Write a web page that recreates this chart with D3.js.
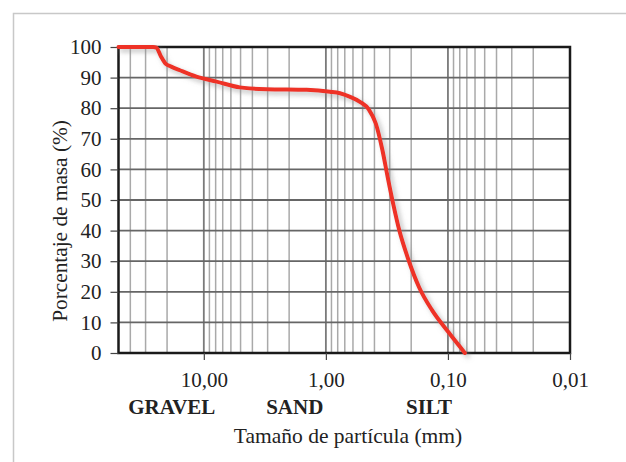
<!DOCTYPE html>
<html>
<head>
<meta charset="utf-8">
<script src="https://cdn.jsdelivr.net/npm/d3@7"></script>
<style>
  body { margin: 0; background: #fff; }
  text { font-family: "Liberation Serif", "Times New Roman", serif; fill: #222; }
</style>
</head>
<body>
<div id="chart"></div>
<script>
// particle size (mm) and percent passing
var sizes   = [50, 26, 24.5, 22.5, 20.6, 18.5, 15.7, 11.5, 7.87, 5.07, 3.06, 1.44, 0.927, 0.767, 0.64, 0.526, 0.445, 0.39, 0.345, 0.31, 0.28, 0.25, 0.212, 0.172, 0.135, 0.1, 0.0726];
var passing = [100, 100, 99.8, 97.0, 94.6, 93.6, 92.4, 90.3, 88.7, 86.8, 86.2, 86.0, 85.4, 84.9, 83.8, 82.1, 79.6, 75.0, 66.5, 57.0, 48.5, 40.0, 30.8, 21.4, 14.0, 7.0, 0];

var xTickValues = [10, 1, 0.1, 0.01];
var xTickLabels = ["10,00", "1,00", "0,10", "0,01"];
var yTickValues = [0, 10, 20, 30, 40, 50, 60, 70, 80, 90, 100];

var classNames = ["GRAVEL", "SAND", "SILT"];
var classSizes = [18.3, 1.8, 0.143];

var xTitle = "Tamaño de partícula (mm)";
var yTitle = "Porcentaje de masa (%)";

var width = 626, height = 462;
var margin = { top: 47, right: 56, bottom: 109, left: 118.5 };
var w = width - margin.left - margin.right,
    h = height - margin.top - margin.bottom;

var svg = d3.select("#chart").append("svg")
    .attr("width", width)
    .attr("height", height);

// light frame around the figure
svg.append("path")
    .attr("d", "M13.5,462 V13.5 H626")
    .attr("fill", "none")
    .attr("stroke", "#c8c8c8")
    .attr("stroke-width", 1.5);

var defs = svg.append("defs");
var filt = defs.append("filter").attr("id", "shadow")
    .attr("x", "-10%").attr("y", "-10%").attr("width", "130%").attr("height", "130%");
filt.append("feDropShadow")
    .attr("dx", 3).attr("dy", 3).attr("stdDeviation", 2.5)
    .attr("flood-color", "#888").attr("flood-opacity", 0.55);

var g = svg.append("g")
    .attr("transform", "translate(" + margin.left + "," + margin.top + ")");

var x = d3.scaleLog().domain([50, 0.01]).range([0, w]);
var y = d3.scaleLinear().domain([0, 100]).range([h, 0]);

// minor vertical grid: 2..9 in every decade
var minor = [];
[10, 1, 0.1, 0.01].forEach(function(base) {
  for (var k = 2; k <= 9; k++) {
    var v = base * k;
    if (v < 50) minor.push(v);
  }
});

g.selectAll(".vminor").data(minor).enter().append("line")
    .attr("class", "vminor")
    .attr("x1", d => x(d)).attr("x2", d => x(d))
    .attr("y1", 0).attr("y2", h)
    .attr("stroke", "#a9a9a9")
    .attr("stroke-width", 1.5);

g.selectAll(".vmajor").data([10, 1, 0.1]).enter().append("line")
    .attr("class", "vmajor")
    .attr("x1", d => x(d)).attr("x2", d => x(d))
    .attr("y1", 0).attr("y2", h)
    .attr("stroke", "#7a7a7a")
    .attr("stroke-width", 1.8);

g.selectAll(".hgrid").data(yTickValues.slice(1, -1)).enter().append("line")
    .attr("class", "hgrid")
    .attr("x1", 0).attr("x2", w)
    .attr("y1", d => y(d)).attr("y2", d => y(d))
    .attr("stroke", "#666")
    .attr("stroke-width", 1.8);

// frame of the plot
g.append("rect")
    .attr("width", w).attr("height", h)
    .attr("fill", "none")
    .attr("stroke", "#1a1a1a")
    .attr("stroke-width", 2.5);

// axes
var yAxis = d3.axisLeft(y).tickValues(yTickValues).tickSize(8).tickPadding(9).tickFormat(d3.format("d"));
var yg = g.append("g").attr("class", "axis y-axis").call(yAxis);
yg.select(".domain").remove();
yg.selectAll("line").attr("stroke", "#444").attr("stroke-width", 1.2);
yg.selectAll("text").attr("font-size", 21).style("font-family", "Liberation Serif, serif").attr("fill", "#222");

var xAxis = d3.axisBottom(x).tickValues(xTickValues).tickSize(7).tickPadding(12)
    .tickFormat((d, i) => xTickLabels[i]);
var xg = g.append("g").attr("class", "axis x-axis")
    .attr("transform", "translate(0," + h + ")")
    .call(xAxis);
xg.select(".domain").remove();
xg.selectAll("line").attr("stroke", "#444").attr("stroke-width", 1.2);
xg.selectAll("text").attr("font-size", 21).style("font-family", "Liberation Serif, serif").attr("fill", "#222");

// soil classes
g.selectAll(".cls").data(classNames).enter().append("text")
    .attr("class", "cls")
    .attr("x", (d, i) => x(classSizes[i]))
    .attr("y", h + 61)
    .attr("text-anchor", "middle")
    .attr("font-size", 21)
    .attr("font-weight", "bold")
    .text(d => d);

// titles
g.append("text")
    .attr("x", 348 - margin.left)
    .attr("y", h + 90)
    .attr("text-anchor", "middle")
    .attr("font-size", 21.5)
    .text(xTitle);

g.append("text")
    .attr("transform", "translate(" + (67 - margin.left) + "," + (221 - margin.top) + ") rotate(-90)")
    .attr("text-anchor", "middle")
    .attr("font-size", 21.3)
    .text(yTitle);

// grading curve
var data = sizes.map((s, i) => ({ size: s, pct: passing[i] }));
var line = d3.line()
    .x(d => x(d.size))
    .y(d => y(d.pct))
    .curve(d3.curveMonotoneX);

g.append("path")
    .datum(data)
    .attr("d", line)
    .attr("fill", "none")
    .attr("stroke", "#ee3126")
    .attr("stroke-width", 4)
    .attr("stroke-linecap", "round")
    .attr("filter", "url(#shadow)");
</script>
</body>
</html>
